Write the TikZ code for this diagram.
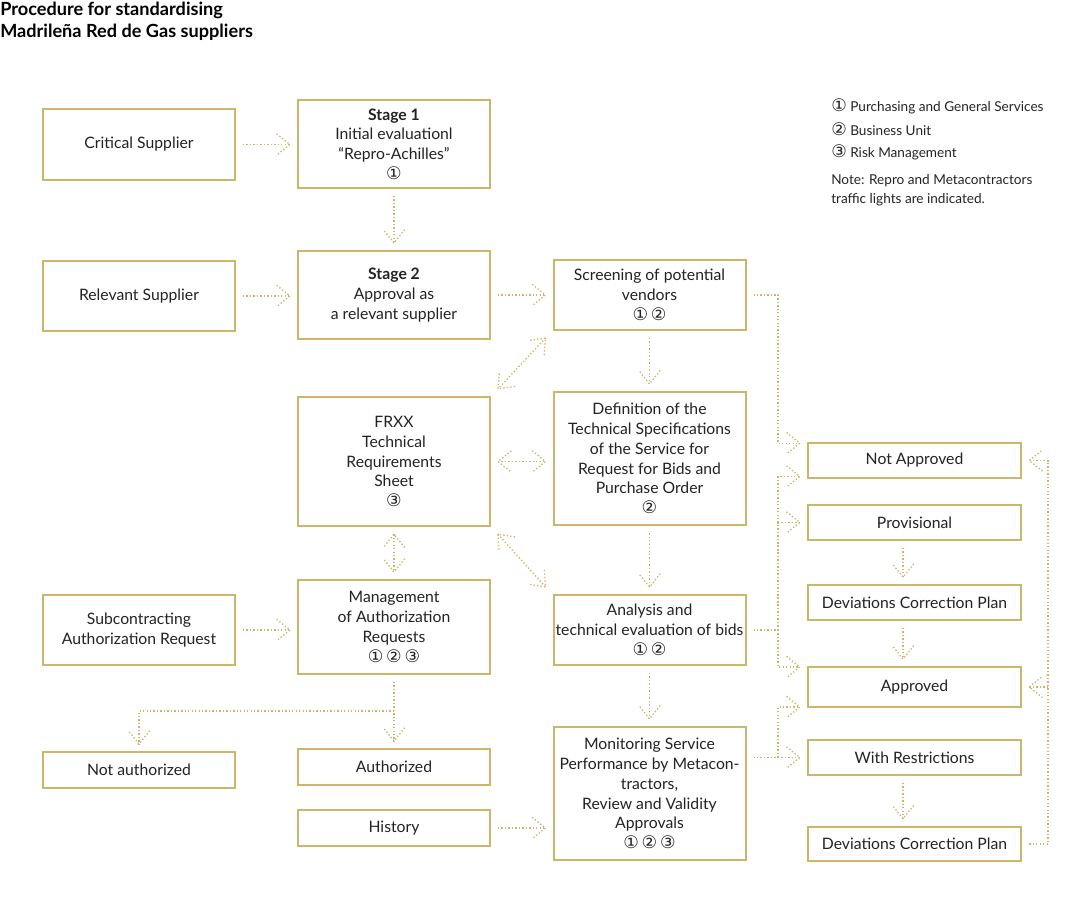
\documentclass[tikz,border=0pt]{standalone}
\usepackage{fontspec}
\setmainfont{Lato}
\newfontfamily\numfont{DejaVu Sans}
\usetikzlibrary{decorations.markings}
\definecolor{gold}{RGB}{206,181,108}
\definecolor{ink}{RGB}{35,35,35}
\newcommand{\nums}[1]{{\numfont\fontsize{13}{14.8}\selectfont #1}}

\begin{document}
\begin{tikzpicture}[x=0.75pt,y=-0.75pt,
	box/.style={draw=gold,line width=1.5pt,fill=white,text=ink,align=center,
		minimum width=144pt,inner sep=1pt,outer sep=6pt,
		font=\fontsize{11.8}{14.8}\selectfont},
	wide/.style={box,minimum width=160pt},
	legend/.style={anchor=west,inner sep=0pt,text=ink,align=left,
		font=\fontsize{10.2}{14.3}\selectfont},
	headtip/.style={decoration={markings,mark=at position 1 with
		{\draw[gold,line width=1pt,dash pattern=on 1pt off 1.6pt] (-10pt,8pt) -- (0,0) -- (-10pt,-8pt);}}},
	tailtip/.style={decoration={markings,mark=at position 0 with
		{\draw[gold,line width=1pt,dash pattern=on 1pt off 1.6pt] (10pt,8pt) -- (0,0) -- (10pt,-8pt);}}},
	flow/.style={draw=gold,line width=1pt,dash pattern=on 1pt off 1.6pt,
		postaction={decorate,headtip}},
	flowtwo/.style={flow,postaction={decorate,tailtip}}]
	\useasboundingbox (0,0) rectangle (1087,898);

	% title and legend
	\node[anchor=north west,inner sep=0pt,align=left,text=black,
		font=\bfseries\fontsize{13.6}{16.5}\selectfont] (title) at (0,2)
		{Procedure for standardising\\Madrileña Red de Gas suppliers};
	\node[legend] (leg1) at (831,106) {\nums{①} Purchasing and General Services};
	\node[legend] (leg2) at (831,129) {\nums{②} Business Unit};
	\node[legend] (leg3) at (831,152) {\nums{③} Risk Management};
	\node[legend] (note) at (831,190) {Note: Repro and Metacontractors\\traffic lights are indicated.};

	% left column
	\node[box,minimum height=53pt] (crit) at (139,144.5) {Critical Supplier};
	\node[box,minimum height=52.5pt] (rel) at (139,296) {Relevant Supplier};
	\node[box,minimum height=52.5pt] (subreq) at (139,630) {Subcontracting\\Authorization Request};
	\node[box,minimum height=27pt] (notauth) at (139,770) {Not authorized};

	% second column
	\node[box,minimum height=66pt] (stage1) at (394,144) {\textbf{Stage 1}\\Initial evaluationl\\“Repro-Achilles”\\\nums{①}};
	\node[box,minimum height=66pt] (stage2) at (394,295) {\textbf{Stage 2}\\Approval as\\a relevant supplier};
	\node[box,minimum height=97pt] (frxx) at (394,461.5) {FRXX\\Technical\\Requirements\\Sheet\\\nums{③}};
	\node[box,minimum height=70.5pt] (mgmt) at (394,627) {Management\\of Authorization\\Requests\\\nums{①\,②\,③}};
	\node[box,minimum height=27pt] (auth) at (394,767) {Authorized};
	\node[box,minimum height=27pt] (history) at (394,828) {History};

	% third column
	\node[box,minimum height=52.5pt] (screen) at (649.5,295) {Screening of potential\\vendors\\\nums{①\,②}};
	\node[box,minimum height=100pt] (defn) at (649.5,458.5) {Definition of the\\Technical Specifications\\of the Service for\\Request for Bids and\\Purchase Order\\\nums{②}};
	\node[box,minimum height=52.5pt] (analysis) at (649.5,630) {Analysis and\\technical evaluation of bids\\\nums{①\,②}};
	\node[box,minimum height=100pt] (monitor) at (649.5,793.5) {Monitoring Service\\Performance by Metacon-\\tractors,\\Review and Validity\\Approvals\\\nums{①\,②\,③}};

	% results column
	\node[wide,minimum height=26pt] (notapp) at (914.5,460.5) {Not Approved};
	\node[wide,minimum height=26pt] (prov) at (914.5,522.5) {Provisional};
	\node[wide,minimum height=26pt] (dev1) at (914.5,602.5) {Deviations Correction Plan};
	\node[wide,minimum height=30pt] (approved) at (914.5,687) {Approved};
	\node[wide,minimum height=26pt] (withres) at (914.5,757.5) {With Restrictions};
	\node[wide,minimum height=26pt] (dev2) at (914.5,844) {Deviations Correction Plan};

	\coordinate (bus) at (778,0);
	\coordinate (rbus) at (1048,0);
	\coordinate (split) at (394,711);

	% connectors
	\draw[flow] (crit.east) -- (crit.east -| stage1.west);
	\draw[flow] (stage1) -- (stage2);
	\draw[flow] (rel.east) -- (rel.east -| stage2.west);
	\draw[flow] (stage2) -- (screen);
	\draw[flowtwo] (screen.south west) -- (frxx.north east);
	\draw[flow] (screen) -- (defn);
	\draw[flowtwo] (frxx.east) -- (frxx.east -| defn.west);
	\draw[flow] (defn) -- (analysis);
	\draw[flowtwo] (frxx.south east) -- (analysis.north west);
	\draw[flowtwo] (frxx) -- (mgmt);
	\draw[flow] (subreq.east) -- (subreq.east -| mgmt.west);
	\draw[flow] (mgmt) -- (auth);
	\draw[flow] (split) -| (notauth.north);
	\draw[flow] (analysis) -- (monitor);
	\draw[flow] (history.east) -- (history.east -| monitor.west);

	\draw[flow] (screen.east) -- (screen.east -| bus) |- ([yshift=13pt]notapp.west);
	\draw[flow] (analysis.east) -- (analysis.east -| bus) |- ([yshift=-12pt]notapp.west);
	\draw[flow] (analysis.east -| bus) |- (prov.west);
	\draw[flow] (analysis.east -| bus) |- ([yshift=15pt]approved.west);
	\draw[flow] (monitor.east |- withres.west) -- (withres.west);
	\draw[flow] (bus |- withres.west) |- ([yshift=-15pt]approved.west);

	\draw[flow] ([xshift=-8.6pt]prov.south) -- ([xshift=-8.6pt]dev1.north);
	\draw[flow] ([xshift=-8.6pt]dev1.south) -- ([xshift=-8.6pt]approved.north);
	\draw[flow] ([xshift=-8.6pt]withres.south) -- ([xshift=-8.6pt]dev2.north);
	\draw[flow] (dev2.east) -- (dev2.east -| rbus) |- (notapp.east);
	\draw[flow] (approved.east -| rbus) -- (approved.east);
\end{tikzpicture}
\end{document}
